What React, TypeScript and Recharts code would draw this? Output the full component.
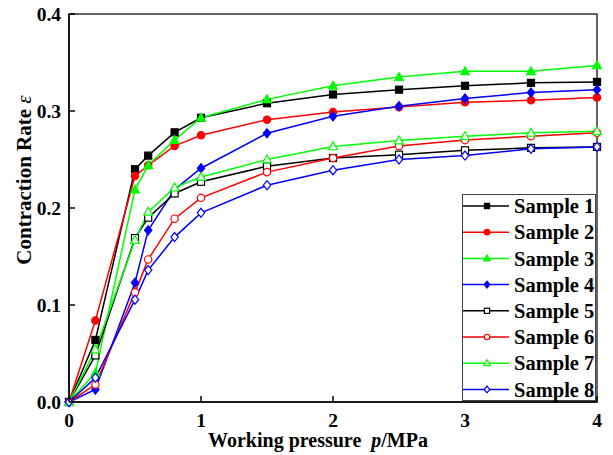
import React from 'react';
import { LineChart, Line, XAxis, YAxis, ReferenceArea } from 'recharts';

// working pressure (MPa)
const pressure = [0, 0.2, 0.5, 0.6, 0.8, 1, 1.5, 2, 2.5, 3, 3.5, 4];

const sample1 = [0, 0.064, 0.240, 0.254, 0.278, 0.293, 0.308, 0.317, 0.322, 0.326, 0.329, 0.330];
const sample2 = [0, 0.084, 0.233, 0.244, 0.264, 0.275, 0.291, 0.299, 0.304, 0.309, 0.311, 0.314];
const sample3 = [0, 0.030, 0.219, 0.244, 0.270, 0.293, 0.312, 0.326, 0.335, 0.341, 0.341, 0.347];
const sample4 = [0, 0.013, 0.123, 0.177, 0.219, 0.241, 0.277, 0.2945, 0.305, 0.313, 0.319, 0.322];
const sample5 = [0, 0.048, 0.169, 0.190, 0.215, 0.227, 0.243, 0.2515, 0.255, 0.2595, 0.262, 0.263];
const sample6 = [0, 0.018, 0.113, 0.147, 0.189, 0.2105, 0.237, 0.2515, 0.264, 0.270, 0.274, 0.2775];
const sample7 = [0, 0.054, 0.167, 0.196, 0.221, 0.232, 0.250, 0.2635, 0.2695, 0.274, 0.2775, 0.279];
const sample8 = [0, 0.025, 0.1055, 0.136, 0.170, 0.195, 0.2235, 0.239, 0.250, 0.254, 0.261, 0.263];

const xTicks = [0, 1, 2, 3, 4];
const yTicks = [0, 0.1, 0.2, 0.3, 0.4];

type Shape = 'square' | 'circle' | 'triangle' | 'diamond';

type Series = {
  name: string,
  key: string,
  values: number[],
  color: string,
  shape: Shape,
  filled: boolean
}

const series: Series[] = [
  { name: 'Sample 1', key: 's1', values: sample1, color: '#000000', shape: 'square', filled: true },
  { name: 'Sample 2', key: 's2', values: sample2, color: '#ff0000', shape: 'circle', filled: true },
  { name: 'Sample 3', key: 's3', values: sample3, color: '#00ff00', shape: 'triangle', filled: true },
  { name: 'Sample 4', key: 's4', values: sample4, color: '#0000ff', shape: 'diamond', filled: true },
  { name: 'Sample 5', key: 's5', values: sample5, color: '#000000', shape: 'square', filled: false },
  { name: 'Sample 6', key: 's6', values: sample6, color: '#ff0000', shape: 'circle', filled: false },
  { name: 'Sample 7', key: 's7', values: sample7, color: '#00ff00', shape: 'triangle', filled: false },
  { name: 'Sample 8', key: 's8', values: sample8, color: '#0000ff', shape: 'diamond', filled: false },
];

const data = pressure.map((p, i) => {
  const row: Record<string, number> = { p };
  series.forEach((s) => { row[s.key] = s.values[i]; });
  return row;
});

const FONT = "'Liberation Serif', 'Times New Roman', serif";

function Marker({ cx, cy, shape, color, filled, s }: { cx: number, cy: number, shape: Shape, color: string, filled: boolean, s: number }) {
  const fill = filled ? color : '#fff';
  const common = { fill, stroke: color, strokeWidth: 1.2 };
  if (shape === 'square') return <rect x={cx - s} y={cy - s} width={s * 2} height={s * 2} {...common} />;
  if (shape === 'circle') return <circle cx={cx} cy={cy} r={s * 1.05} {...common} />;
  if (shape === 'triangle') {
    const pts = `${cx},${cy - s * 1.3} ${cx + s * 1.25},${cy + s * 0.95} ${cx - s * 1.25},${cy + s * 0.95}`;
    return <polygon points={pts} {...common} />;
  }
  const pts = `${cx},${cy - s * 1.3} ${cx + s * 1.05},${cy} ${cx},${cy + s * 1.3} ${cx - s * 1.05},${cy}`;
  return <polygon points={pts} {...common} />;
}

const makeDot = (s: Series) => (props: any) => {
  const { cx, cy, index } = props;
  return (
    <g key={`${s.key}-${index}`}>
      <Marker cx={cx} cy={cy} shape={s.shape} color={s.color} filled={s.filled} s={3.5} />
    </g>
  );
};

const YTick = (props: any) => {
  const { x, y, payload } = props;
  return (
    <g>
      <line x1={x + 8} x2={x + 14} y1={y} y2={y} stroke="#000" strokeWidth={1.5} />
      <text x={x} y={y} dy="0.36em" textAnchor="end" fontFamily={FONT} fontWeight="bold" fontSize={19.5} fill="#000">
        {Number(payload.value).toFixed(1)}
      </text>
    </g>
  );
};

const XTick = (props: any) => {
  const { x, y, payload } = props;
  return (
    <g>
      <line x1={x} x2={x} y1={y - 8} y2={y - 14} stroke="#000" strokeWidth={1.5} />
      <text x={x} y={y} dy={17} textAnchor="middle" fontFamily={FONT} fontWeight="bold" fontSize={19.5} fill="#000">
        {payload.value}
      </text>
    </g>
  );
};

const XLabel = (props: any) => {
  const vb = props.viewBox;
  return (
    <text x={vb.x + vb.width / 2 - 15} y={vb.y + 45} textAnchor="middle" fontFamily={FONT} fontWeight="bold" fontSize={20} fill="#000">
      {'Working pressure\u00a0 '}<tspan fontStyle="italic">p</tspan>/MPa
    </text>
  );
};

const YLabel = (props: any) => {
  const vb = props.viewBox;
  const cx = 24;
  const cy = vb.y + vb.height / 2 - 28;
  return (
    <text x={cx} y={cy} transform={`rotate(-90, ${cx}, ${cy})`} textAnchor="middle" dominantBaseline="central"
      fontFamily={FONT} fontWeight="bold" fontSize={21} fill="#000">
      Contraction Rate <tspan fontStyle="italic" fontWeight="normal">ε</tspan>
    </text>
  );
};

function LegendBox() {
  return (
    <div style={{
      position: 'absolute', left: 462, top: 194, width: 134, height: 207,
      background: '#fff', border: '1px solid #444', boxSizing: 'border-box'
    }}>
      <svg width={134} height={207}>
        {series.map((s, i) => {
          const y = 11 + i * 26.2;
          return (
            <g key={s.key}>
              <line x1={0} x2={46} y1={y} y2={y} stroke={s.color} strokeWidth={1.5} />
              <Marker cx={24} cy={y} shape={s.shape} color={s.color} filled={s.filled} s={2.6} />
              <text x={51} y={y} dy="0.35em" fontFamily={FONT} fontWeight="bold" fontSize={20.5} fill="#000">
                {s.name}
              </text>
            </g>
          );
        })}
      </svg>
    </div>
  );
}

export default function App() {
  return (
    <div style={{ position: 'absolute', left: 0, top: 0, width: 613, height: 455, background: '#fff' }}>
      <LineChart width={613} height={455} data={data} margin={{ top: 14, right: 16, left: 0, bottom: 0 }}>
        <XAxis dataKey="p" type="number" domain={[0, 4]} ticks={xTicks} tickSize={0} tickMargin={8}
          tick={<XTick />} axisLine={{ stroke: '#000', strokeWidth: 1.5 }} height={53}
          label={<XLabel />} />
        <YAxis type="number" domain={[0, 0.4]} ticks={yTicks} tickSize={0} tickMargin={8}
          tick={<YTick />} axisLine={{ stroke: '#000', strokeWidth: 1.5 }} width={69}
          label={<YLabel />} />
        <ReferenceArea x1={0} x2={4} y1={0} y2={0.4} fill="none" stroke="#333" strokeWidth={1.5} ifOverflow="visible" />
        {series.map((s) => (
          <Line key={s.key} dataKey={s.key} name={s.name} stroke={s.color} strokeWidth={1.5}
            dot={makeDot(s)} activeDot={false} isAnimationActive={false} type="linear" />
        ))}
      </LineChart>
      <LegendBox />
    </div>
  );
}
